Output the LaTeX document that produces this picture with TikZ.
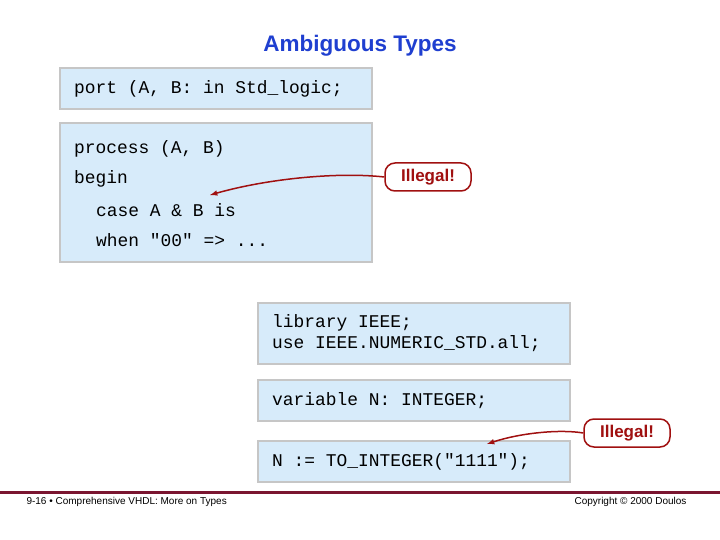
\documentclass[tikz,border=0pt]{standalone}
\usepackage{fontspec}
\setmainfont{Liberation Sans}
\setmonofont{Liberation Mono}
\definecolor{codebg}{HTML}{D7EBFA}
\definecolor{maroon}{HTML}{7A1530}
\definecolor{warnred}{HTML}{A01010}
\definecolor{titleblue}{HTML}{1F3FD0}
\begin{document}
\begin{tikzpicture}[
    x=1pt, y=-1pt,
    codebox/.style={
        draw=gray!45,
        fill=codebg,
        line width=1.5pt
    },
    code/.style={
        anchor=west,
        inner sep=0pt,
        font=\fontsize{17.9}{21}\selectfont\ttfamily
    },
    warning/.style={
        draw=warnred,
        fill=white,
        line width=1.5pt,
        rounded corners=10pt,
        minimum width=86pt,
        minimum height=28pt,
        text=warnred,
        font=\fontsize{17}{20}\selectfont\bfseries
    },
    pointer/.style={
        -latex,
        line width=1.5pt,
        warnred
    }
]

\useasboundingbox (0,0) rectangle (720,540);

\node[font=\fontsize{22.5}{26}\selectfont\bfseries, text=titleblue] (title) at (360,46) {Ambiguous Types};

% code boxes
\draw[codebox] (60,68) rectangle (372,109);
\draw[codebox] (60,123) rectangle (372,262);
\draw[codebox] (258,303) rectangle (570,364);
\draw[codebox] (258,380) rectangle (570,421);
\draw[codebox] (258,441) rectangle (570,482);

\node[code] (port) at (74,89) {port (A, B: in Std\_logic;};
\node[code] (proc) at (74,149) {process (A, B)};
\node[code] (begin) at (74,179) {begin};
\node[code] (case) at (96,210) {case A \& B is};
\node[code] (when) at (96,240) {when "00" => ...};
\node[code] (lib) at (272,323) {library IEEE;};
\node[code] (use) at (272,344) {use IEEE.NUMERIC\_STD.all;};
\node[code] (var) at (272,401) {variable N: INTEGER;};
\node[code] (assign) at (272,462) {N := TO\_INTEGER("1111");};

% warnings
\coordinate (t1) at (210,195);
\coordinate (t2) at (487,444);
\node[warning] (ill1) at (428,177) {Illegal!};
\node[warning] (ill2) at (627,433) {Illegal!};
\draw[pointer] (ill1.west) .. controls (340,172) and (270,178) .. (t1);
\draw[pointer] (ill2.west) .. controls (560,429) and (520,433) .. (t2);

% footer
\draw[maroon, line width=3pt] (0,492) -- (720,492);
\node[anchor=west, font=\fontsize{10}{12}\selectfont] (foot) at (23,502) {9-16 \textbullet{} Comprehensive VHDL: More on Types};
\node[anchor=east, font=\fontsize{10}{12}\selectfont] (copy) at (690,502) {Copyright \textcopyright{} 2000 Doulos};

\end{tikzpicture}
\end{document}
